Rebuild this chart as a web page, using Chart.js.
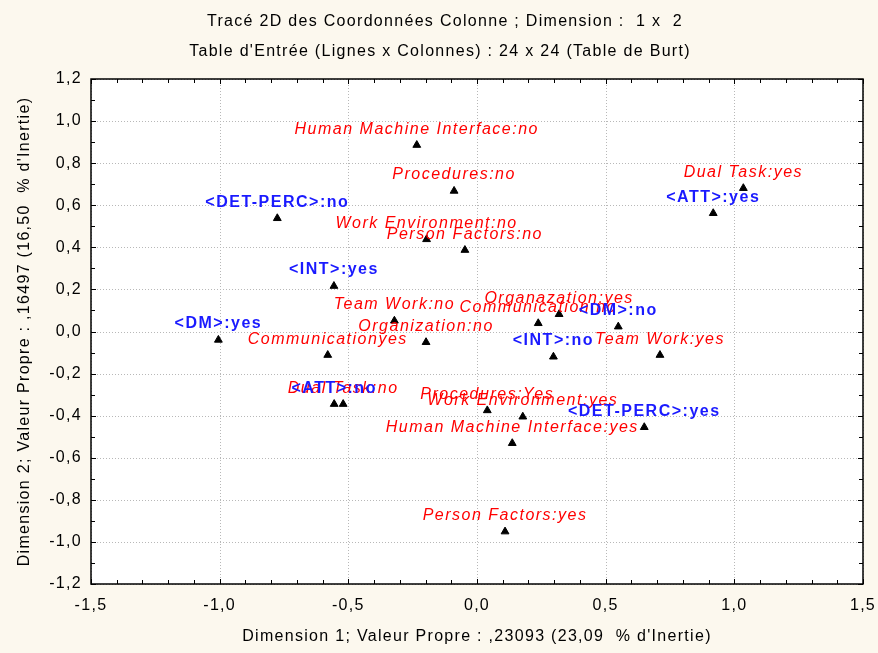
<!doctype html>
<html>
<head>
<meta charset="utf-8">
<title>Tracé 2D des Coordonnées Colonne</title>
<script src="https://cdn.jsdelivr.net/npm/chart.js@4.4.1/dist/chart.umd.min.js"></script>
<style>
  html, body { margin: 0; padding: 0; background: #fcf8ee; }
</style>
</head>
<body>
<canvas id="acm" width="878" height="653"></canvas>

<script>
// column categories (blue = variable, written with <...>)
var categories = [
  "Human Machine Interface:no", "Procedures:no", "<DET-PERC>:no", "Work Environment:no",
  "Person Factors:no", "<INT>:yes", "Dual Task:yes", "<ATT>:yes",
  "<DM>:yes", "Team Work:no", "Organization:no", "Communicationyes",
  "<ATT>:no", "Dual Task:no", "Procedures:Yes", "Communication:no",
  "Organazation:yes", "<DM>:no", "<INT>:no", "Team Work:yes",
  "Work Environment:yes", "<DET-PERC>:yes", "Human Machine Interface:yes", "Person Factors:yes"
];
// coordinates on dimension 1 and 2
var dim1 = [
  -0.234, -0.089, -0.776, -0.196,
  -0.047, -0.556, 1.035, 0.918,
  -1.005, -0.321, -0.198, -0.580,
  -0.555, -0.520, 0.040, 0.238,
  0.319, 0.549, 0.297, 0.711,
  0.178, 0.650, 0.137, 0.109
];
var dim2 = [
  0.886, 0.668, 0.538, 0.438,
  0.387, 0.216, 0.681, 0.562,
  -0.040, 0.051, -0.051, -0.112,
  -0.345, -0.345, -0.375, 0.039,
  0.082, 0.023, -0.120, -0.112,
  -0.405, -0.455, -0.531, -0.951
];
var xTicks = [-1.5, -1.0, -0.5, 0.0, 0.5, 1.0, 1.5];
var yTicks = [-1.2, -1.0, -0.8, -0.6, -0.4, -0.2, 0.0, 0.2, 0.4, 0.6, 0.8, 1.0, 1.2];

var titleLines = [
  "Tracé 2D des Coordonnées Colonne ; Dimension :  1 x  2",
  "Table d'Entrée (Lignes x Colonnes) : 24 x 24 (Table de Burt)"
];
var xTitle = "Dimension 1; Valeur Propre : ,23093 (23,09  % d'Inertie)";
var yTitle = "Dimension 2; Valeur Propre : ,16497 (16,50  % d'Inertie)";

var FONT = "'Liberation Sans', Arial, sans-serif";

function fmt(v) {
  return v.toFixed(1).replace('.', ',');
}

var points = [];
for (var i = 0; i < categories.length; i++) {
  points.push({x: dim1[i], y: dim2[i]});
}

// white plot area, dotted grid, frame with inward ticks, titles, point labels
var frame = {
  id: 'frame',
  beforeDraw: function(chart) {
    var a = chart.chartArea, ctx = chart.ctx;
    ctx.save();
    ctx.fillStyle = '#ffffff';
    ctx.fillRect(a.left, a.top, a.right - a.left, a.bottom - a.top);
    ctx.restore();
    // the old statistica text is a bit wider than Arial
    ctx.letterSpacing = '1.3px';
  },
  beforeDatasetsDraw: function(chart) {
    var a = chart.chartArea, ctx = chart.ctx;
    var x = chart.scales.x, y = chart.scales.y;
    ctx.save();
    ctx.strokeStyle = '#b8b8b8';
    ctx.lineWidth = 1;
    ctx.setLineDash([1, 2]);
    x.ticks.forEach(function(t) {
      var px = Math.round(x.getPixelForValue(t.value)) + 0.5;
      ctx.beginPath(); ctx.moveTo(px, a.top); ctx.lineTo(px, a.bottom); ctx.stroke();
    });
    y.ticks.forEach(function(t) {
      var py = Math.round(y.getPixelForValue(t.value)) + 0.5;
      ctx.beginPath(); ctx.moveTo(a.left, py); ctx.lineTo(a.right, py); ctx.stroke();
    });
    ctx.setLineDash([]);
    ctx.strokeStyle = '#000';
    ctx.lineWidth = 1.5;
    ctx.strokeRect(a.left, a.top, a.right - a.left, a.bottom - a.top);
    // inward tick marks every 0.1
    ctx.lineWidth = 1;
    var i, px, py, len;
    for (i = -15; i <= 15; i++) {
      px = Math.round(x.getPixelForValue(i / 10)) + 0.5;
      len = (i % 5 === 0) ? 5 : 4;
      ctx.beginPath();
      ctx.moveTo(px, a.bottom); ctx.lineTo(px, a.bottom - len);
      ctx.moveTo(px, a.top); ctx.lineTo(px, a.top + len);
      ctx.stroke();
    }
    for (i = -12; i <= 12; i++) {
      py = Math.round(y.getPixelForValue(i / 10)) + 0.5;
      len = (i % 2 === 0) ? 5 : 4;
      ctx.beginPath();
      ctx.moveTo(a.left, py); ctx.lineTo(a.left + len, py);
      ctx.moveTo(a.right, py); ctx.lineTo(a.right - len, py);
      ctx.stroke();
    }
    ctx.restore();
  },
  afterDatasetsDraw: function(chart) {
    var ctx = chart.ctx;
    var x = chart.scales.x, y = chart.scales.y;
    ctx.save();
    ctx.textAlign = 'center';
    ctx.textBaseline = 'middle';
    // red labels first, blue on top
    [false, true].forEach(function(blue) {
      categories.forEach(function(lab, i) {
        var isVar = lab.charAt(0) === '<';
        if (isVar !== blue) return;
        var px = x.getPixelForValue(dim1[i]);
        var py = y.getPixelForValue(dim2[i]) - 16;
        if (isVar) {
          ctx.font = 'bold 16px ' + FONT;
          ctx.fillStyle = '#1a1aff';
        } else {
          ctx.font = 'italic 16px ' + FONT;
          ctx.fillStyle = '#ff0000';
        }
        ctx.letterSpacing = '1.5px';
        ctx.fillText(lab, px, py);
      });
    });
    ctx.restore();
  },
  afterDraw: function(chart) {
    var ctx = chart.ctx;
    ctx.save();
    ctx.fillStyle = '#000';
    ctx.textAlign = 'center';
    ctx.textBaseline = 'middle';
    ctx.font = '16px ' + FONT;
    ctx.letterSpacing = '1.3px';
    ctx.fillText(titleLines[0], 445, 22);
    ctx.fillText(titleLines[1], 440, 52);
    ctx.restore();
  }
};

var ctx = document.getElementById("acm").getContext("2d");
var chart = new Chart(ctx, {
  type: 'scatter',
  data: {
    datasets: [{
      data: points,
      pointStyle: 'triangle',
      pointRadius: 4.5,
      pointHoverRadius: 4.5,
      backgroundColor: '#000',
      borderColor: '#000',
      borderWidth: 1
    }]
  },
  options: {
    responsive: false,
    animation: false,
    layout: { padding: { top: 79, right: 15, bottom: 0, left: 0 } },
    plugins: { legend: { display: false }, tooltip: { enabled: false } },
    scales: {
      x: {
        type: 'linear', min: -1.5, max: 1.5,
        afterBuildTicks: function(s) { s.ticks = xTicks.map(function(v) { return {value: v}; }); },
        afterFit: function(s) { s.height = 69; s.paddingLeft = 0; s.paddingRight = 0; },
        grid: { display: false, drawTicks: false },
        border: { display: false },
        ticks: {
          color: '#000', padding: 12, maxRotation: 0, autoSkip: false,
          font: { family: FONT, size: 16 },
          callback: function(v) { return fmt(v); }
        },
        title: {
          display: true, text: xTitle, color: '#000',
          font: { family: FONT, size: 16 },
          padding: { top: 0, bottom: 7 }
        }
      },
      y: {
        type: 'linear', min: -1.2, max: 1.2,
        afterBuildTicks: function(s) { s.ticks = yTicks.map(function(v) { return {value: v}; }); },
        afterFit: function(s) { s.width = 91; s.paddingTop = 0; s.paddingBottom = 0; },
        grid: { display: false, drawTicks: false },
        border: { display: false },
        ticks: {
          color: '#000', padding: 9, autoSkip: false,
          font: { family: FONT, size: 16 },
          callback: function(v) { return fmt(v); }
        },
        title: {
          display: true, text: yTitle, color: '#000',
          font: { family: FONT, size: 16 },
          padding: { top: 15, bottom: 0 }
        }
      }
    }
  },
  plugins: [frame]
});
</script>
</body>
</html>
